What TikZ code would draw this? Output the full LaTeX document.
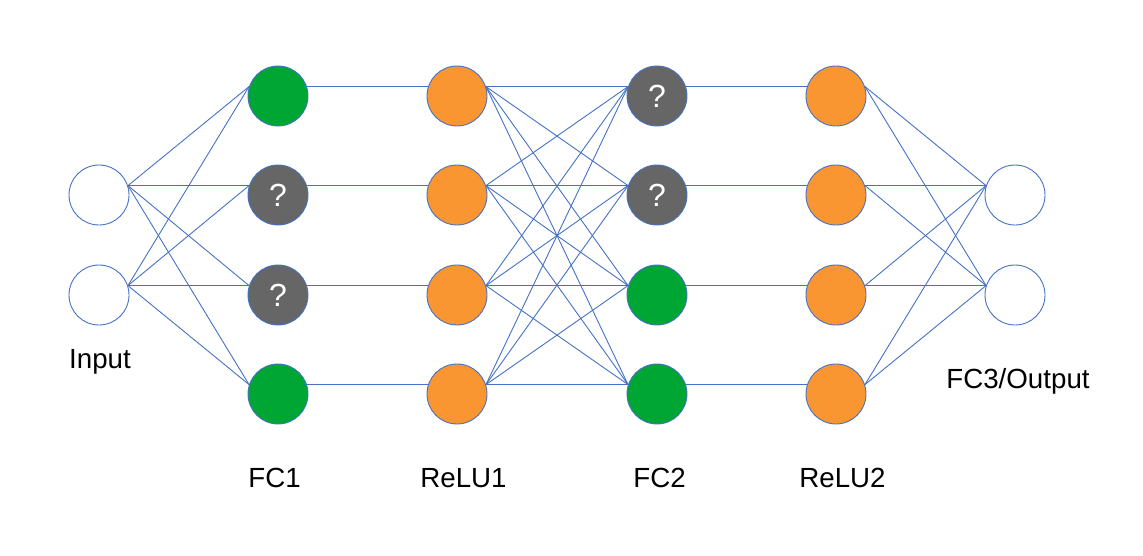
\documentclass[tikz,border=0pt]{standalone}
\usepackage{fontspec}
\setmainfont{Liberation Sans}
\definecolor{cgreen}{RGB}{0,166,52}
\definecolor{corange}{RGB}{250,150,50}
\definecolor{cgray}{RGB}{102,102,102}
\definecolor{cblue}{RGB}{68,114,196}
\begin{document}
\begin{tikzpicture}[x=1pt,y=-1pt,
  neuron/.style={circle,draw=cblue,line width=0.9pt,minimum size=60pt,inner sep=0pt},
  inp/.style={neuron,fill=white},
  grn/.style={neuron,fill=cgreen},
  org/.style={neuron,fill=corange},
  unk/.style={neuron,fill=cgray,text=white,font=\fontsize{32}{36}\selectfont},
  link/.style={draw=cblue,line width=0.9pt},
  lbl/.style={anchor=base,font=\fontsize{27.7}{32}\selectfont,text=black,inner sep=0pt}]
\useasboundingbox (0,0) rectangle (1143,555);
% input
\node[inp] (i1) at (99,195) {};
\node[inp] (i2) at (99,295) {};
% FC1
\node[grn] (a1) at (278,96) {};
\node[unk] (a2) at (278,195) {?};
\node[unk] (a3) at (278,295) {?};
\node[grn] (a4) at (278,394) {};
% ReLU1
\node[org] (b1) at (457,96) {};
\node[org] (b2) at (457,195) {};
\node[org] (b3) at (457,295) {};
\node[org] (b4) at (457,394) {};
% FC2
\node[unk] (c1) at (657,96) {?};
\node[unk] (c2) at (657,195) {?};
\node[grn] (c3) at (657,295) {};
\node[grn] (c4) at (657,394) {};
% ReLU2
\node[org] (d1) at (836,96) {};
\node[org] (d2) at (836,195) {};
\node[org] (d3) at (836,295) {};
\node[org] (d4) at (836,394) {};
% output
\node[inp] (o1) at (1015,195) {};
\node[inp] (o2) at (1015,295) {};
% connections
\foreach \s in {1,2}{\foreach \t in {1,2,3,4}{\draw[link] (i\s.18) -- (a\t.162);}}
\foreach \s in {1,2,3,4}{\draw[link] (a\s.18) -- (b\s.162);}
\foreach \s in {1,2,3,4}{\foreach \t in {1,2,3,4}{\draw[link] (b\s.18) -- (c\t.162);}}
\foreach \s in {1,2,3,4}{\draw[link] (c\s.18) -- (d\s.162);}
\foreach \s in {1,2,3,4}{\foreach \t in {1,2}{\draw[link] (d\s.18) -- (o\t.162);}}
% labels
\node[lbl] (lin) at (100,368) {Input};
\node[lbl] (lfc1) at (274.5,487) {FC1};
\node[lbl] (lr1) at (463.5,487) {ReLU1};
\node[lbl] (lfc2) at (659.5,487) {FC2};
\node[lbl] (lr2) at (842.5,487) {ReLU2};
\node[lbl] (lout) at (1018,388) {FC3/Output};
\end{tikzpicture}
\end{document}
